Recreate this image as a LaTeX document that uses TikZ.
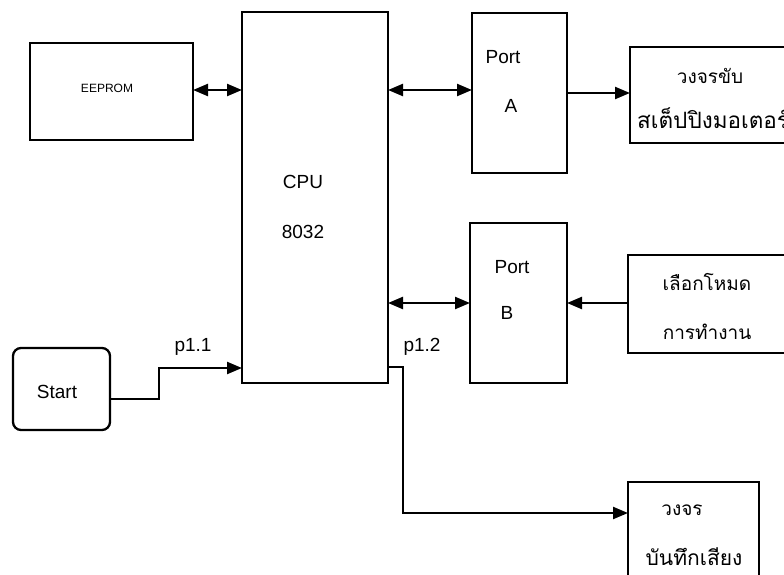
\documentclass[tikz,border=0pt]{standalone}
\usepackage{fontspec}
\setmainfont{Liberation Sans}
\newfontfamily\thaifont[Script=Thai]{Loma}
\usetikzlibrary{arrows.meta}
\begin{document}
\begin{tikzpicture}[x=1pt,y=-1pt,
  box/.style={draw, line width=2.3pt, inner sep=0pt, outer sep=0pt},
  lbl/.style={inner sep=0pt, font=\fontsize{19}{22}\selectfont},
  small/.style={inner sep=0pt, font=\fontsize{12}{14}\selectfont},
  th/.style={inner sep=0pt, font=\thaifont\fontsize{19}{22}\selectfont},
  tip/.tip={Triangle[length=15pt,width=12pt]},
  conn/.style={line width=2.3pt, -tip},
  dbl/.style={line width=2.3pt, tip-tip}]
\useasboundingbox (0,0) rectangle (784,575);
\fill[white] (0,0) rectangle (784,575);
\clip (0,0) rectangle (784,575);
% boxes
\node[box, minimum width=163pt, minimum height=97pt] (eeprom) at (111.5,91.5) {};
\node[box, minimum width=146pt, minimum height=371pt] (cpu) at (315,197.5) {};
\node[box, minimum width=95pt, minimum height=160pt] (porta) at (519.5,93) {};
\node[box, minimum width=170pt, minimum height=96pt] (motor) at (715,95) {};
\node[box, minimum width=97pt, minimum height=160pt] (portb) at (518.5,303) {};
\node[box, minimum width=172pt, minimum height=98pt] (mode) at (714,304) {};
\node[box, rounded corners=8pt, minimum width=97pt, minimum height=82pt] (start) at (61.5,389) {};
\node[box, minimum width=131pt, minimum height=130pt] (rec) at (693.5,547) {};
% texts
\node[small] (teeprom) at (107,88) {EEPROM};
\node[lbl] (tcpu) at (303,182) {CPU};
\node[lbl] (t8032) at (303,232) {8032};
\node[lbl] (tporta) at (503,57) {Port};
\node[lbl] (ta) at (511,106) {A};
\node[lbl] (tportb) at (512,267) {Port};
\node[lbl] (tb) at (507,313) {B};
\node[th] (tmot1) at (710,76) {วงจรขับ};
\node[th, anchor=west, font=\thaifont\fontsize{22.5}{26}\selectfont] (tmot2) at (637,118) {สเต็ปปิงมอเตอร์};
\node[th] (tmode1) at (707,282) {เลือกโหมด};
\node[th] (tmode2) at (707,332) {การทำงาน};
\node[lbl] (tstart) at (57,392) {Start};
\node[th] (trec1) at (682,510) {วงจร};
\node[th, font=\thaifont\fontsize{21}{24}\selectfont] (trec2) at (694,557) {บันทึกเสียง};
\node[lbl] (tp11) at (193,347) {p1.1};
\node[lbl] (tp12) at (422,347) {p1.2};
% connectors
\draw[dbl] (eeprom.east |- 0,90) -- (cpu.west |- 0,90);
\draw[dbl] (cpu.east |- 0,90) -- (porta.west |- 0,90);
\draw[conn] (porta.east) -- (motor.west |- porta.east);
\draw[dbl] (cpu.east |- portb.west) -- (portb.west);
\draw[conn] (mode.west |- portb.east) -- (portb.east);
\draw[conn] (start.east |- 0,399) -- (159,399) -- (159,368) -- (cpu.west |- 0,368);
\draw[conn] (cpu.east |- 0,367) -- (403,367) -- (403,513) -- (rec.west |- 0,513);
\end{tikzpicture}
\end{document}
